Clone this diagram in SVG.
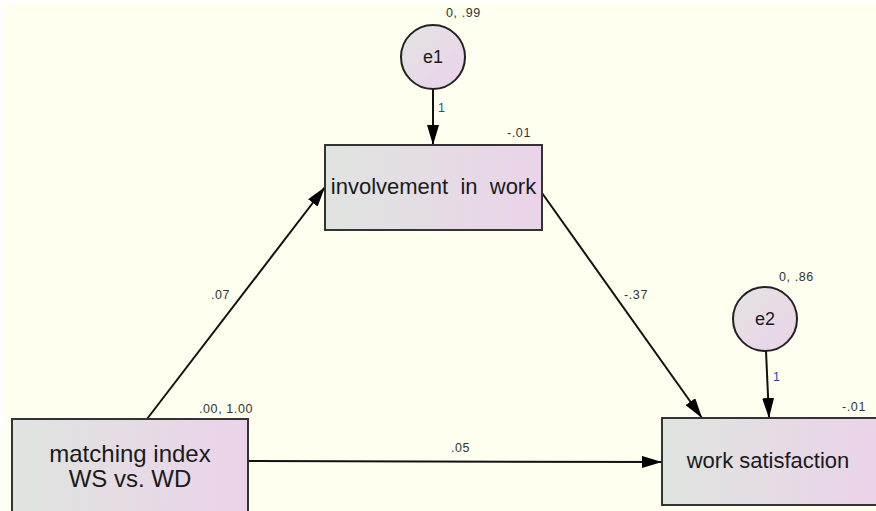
<svg xmlns="http://www.w3.org/2000/svg" width="876" height="511" viewBox="0 0 876 511">
<defs>
<linearGradient id="gBox" x1="0" y1="0" x2="1" y2="0">
<stop offset="0" stop-color="#DFE4DF"/>
<stop offset="1" stop-color="#EBD3E9"/>
</linearGradient>
<linearGradient id="gCirc" x1="0" y1="0" x2="1" y2="1">
<stop offset="0" stop-color="#E3E3E3"/>
<stop offset="1" stop-color="#EBD3E9"/>
</linearGradient>
<marker id="arr" viewBox="0 0 20 12" refX="20" refY="6" markerWidth="20" markerHeight="12" markerUnits="userSpaceOnUse" orient="auto">
<path d="M0,0 L20,6 L0,12 Z" fill="#000"/>
</marker>
<style>
.box{fill:url(#gBox);stroke:#333;stroke-width:2}
.circ{fill:url(#gCirc);stroke:#222;stroke-width:2}
.main{font-family:"Liberation Sans",Arial,sans-serif;font-size:22px;fill:#1a1a1a;text-anchor:middle}
.big{font-size:24px}
.lab{font-family:"Liberation Sans",Arial,sans-serif;font-size:12.5px;letter-spacing:0.6px;fill:#333}
.one{font-family:"Liberation Sans",Arial,sans-serif;font-size:12.5px;fill:#1f4f9a}
.edge{stroke:#111;stroke-width:2;fill:none;marker-end:url(#arr)}
</style>
</defs>
<rect x="0" y="0" width="876" height="511" fill="#FFFFFF"/>
<rect x="3" y="3" width="873" height="508" fill="#FFFFF0"/>
<g id="connectors">
<line class="edge" x1="433" y1="89" x2="433" y2="145"/>
<line class="edge" x1="147" y1="419" x2="325" y2="187"/>
<line class="edge" x1="542" y1="193" x2="702" y2="418"/>
<line class="edge" x1="248" y1="461" x2="662" y2="462"/>
<line class="edge" x1="766" y1="351" x2="769" y2="418"/>
<text class="one" x="438" y="112">1</text>
<text class="one" x="773" y="381">1</text>
<text class="lab" x="211" y="299">.07</text>
<text class="lab" x="624" y="299">-.37</text>
<text class="lab" x="451" y="452">.05</text>
</g>
<g id="e1">
<circle class="circ" cx="433" cy="57" r="32"/>
<text class="main" x="433" y="63" style="font-size:18px">e1</text>
<text class="lab" x="446" y="17">0, .99</text>
</g>
<g id="involvement">
<rect class="box" x="325" y="145" width="217" height="85"/>
<text class="main" x="433.5" y="194" xml:space="preserve">involvement  in  work</text>
<text class="lab" x="507" y="137">-.01</text>
</g>
<g id="matching">
<rect class="box" x="12" y="419" width="236" height="100"/>
<text class="main big" x="130" y="462">matching index</text>
<text class="main big" x="130" y="487">WS vs. WD</text>
<text class="lab" x="199" y="413">.00, 1.00</text>
</g>
<g id="e2">
<circle class="circ" cx="765" cy="319" r="32"/>
<text class="main" x="765" y="325" style="font-size:18px">e2</text>
<text class="lab" x="779" y="281">0, .86</text>
</g>
<g id="worksat">
<rect class="box" x="662" y="418" width="220" height="87"/>
<text class="main" x="768" y="468">work satisfaction</text>
<text class="lab" x="842" y="411">-.01</text>
</g>
</svg>
